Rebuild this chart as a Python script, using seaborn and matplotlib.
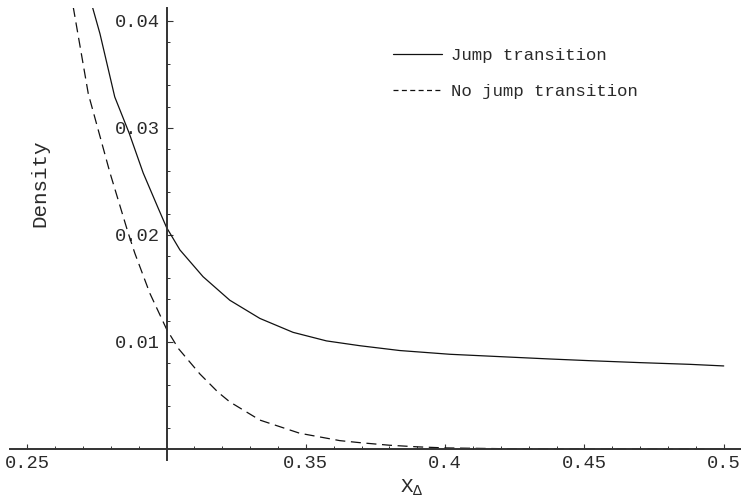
import numpy as np
import pandas as pd
import matplotlib
matplotlib.use("Agg")
import matplotlib.pyplot as plt
from matplotlib.ticker import FixedLocator, MultipleLocator
from matplotlib.lines import Line2D
import seaborn as sns

# ---------------- data ----------------
jump_x = [0.2734, 0.2761, 0.2814, 0.2866, 0.2916, 0.2970, 0.3000, 0.3048,
          0.3131, 0.3227, 0.3335, 0.3454, 0.3574, 0.3694, 0.3837, 0.4017,
          0.4196, 0.4376, 0.4520, 0.4699, 0.4878, 0.5000]
jump_y = [0.0413, 0.0388, 0.0329, 0.0295, 0.0258, 0.0225, 0.0207, 0.0186,
          0.0161, 0.0139, 0.0122, 0.0109, 0.0101, 0.00965, 0.0092, 0.00885,
          0.00863, 0.00841, 0.00825, 0.00807, 0.00791, 0.00776]

nojump_x = [0.2665, 0.2719, 0.2797, 0.2862, 0.2886, 0.2940, 0.3000, 0.3042,
            0.3120, 0.3185, 0.3227, 0.3335, 0.3478, 0.3622, 0.3694, 0.3800,
            0.3900, 0.4000, 0.4200, 0.4500, 0.5000]
nojump_y = [0.0413, 0.0332, 0.0258, 0.0202, 0.0183, 0.01455, 0.0112, 0.0094,
            0.0070, 0.0053, 0.0044, 0.0027, 0.00147, 0.00078, 0.00059, 0.00035,
            0.0002, 0.0001, 0.00003, 0.00001, 0.0]

series_names = ["Jump transition", "No jump transition"]
x_tick_values = [0.25, 0.35, 0.4, 0.45, 0.5]
x_tick_labels = ["0.25", "0.35", "0.4", "0.45", "0.5"]
y_tick_values = [0.01, 0.02, 0.03, 0.04]
y_tick_labels = ["0.01", "0.02", "0.03", "0.04"]
x_label = r"X$_{\Delta}$"
y_label = "Density"

df = pd.concat([
    pd.DataFrame({"x": jump_x, "density": jump_y, "series": series_names[0]}),
    pd.DataFrame({"x": nojump_x, "density": nojump_y, "series": series_names[1]}),
], ignore_index=True)

# ---------------- style ----------------
sns.set_style("white")
MONO = ["Liberation Mono", "DejaVu Sans Mono"]
plt.rcParams["font.family"] = MONO
plt.rcParams["mathtext.fontset"] = "custom"
plt.rcParams["mathtext.rm"] = "Liberation Mono"
plt.rcParams["mathtext.it"] = "Liberation Mono"
TXT = "#2a2a2a"
AX = "#333333"

W, H = 741, 499
fig = plt.figure(figsize=(W / 100, H / 100), dpi=100)
ax = fig.add_axes([10 / W, (H - 460) / H, 731 / W, (460 - 8) / H])

sns.lineplot(data=df, x="x", y="density", style="series",
             dashes={series_names[0]: "", series_names[1]: (8, 4.5)},
             color="#111111", linewidth=0.9, estimator=None, legend=False, ax=ax)

ax.set_xlim(0.2438, 0.5062)
ax.set_ylim(-0.00103, 0.04121)

# Mathematica-like crossing axes
ax.spines["left"].set_position(("data", 0.3))
ax.spines["bottom"].set_position(("data", 0.0))
for s in ["top", "right"]:
    ax.spines[s].set_visible(False)
for s in ["left", "bottom"]:
    ax.spines[s].set_color(AX)
    ax.spines[s].set_linewidth(1.4)

ax.xaxis.set_major_locator(FixedLocator(x_tick_values))
ax.set_xticklabels(x_tick_labels)
ax.xaxis.set_minor_locator(MultipleLocator(0.01))
ax.yaxis.set_major_locator(FixedLocator(y_tick_values))
ax.set_yticklabels(y_tick_labels)
ax.yaxis.set_minor_locator(FixedLocator([v for v in np.arange(0.002, 0.0411, 0.002)
                                         if abs(v / 0.01 - round(v / 0.01)) > 1e-6]))

ax.tick_params(axis="x", which="both", bottom=True, top=False)
ax.tick_params(axis="y", which="both", left=True, right=False)
ax.tick_params(axis="x", which="major", direction="in", length=3.3, width=0.8,
               color=AX, labelsize=13.5, labelcolor=TXT, pad=4.5)
ax.tick_params(axis="x", which="minor", direction="in", length=2.0, width=0.7, color=AX)
ax.tick_params(axis="y", which="major", direction="in", length=4.3, width=0.8,
               color=AX, labelsize=13.5, labelcolor=TXT, pad=4.5)
ax.tick_params(axis="y", which="minor", direction="in", length=2.4, width=0.7, color=AX)

ax.set_xlabel("")
ax.set_ylabel("")
fig.text(412 / W, 1 - 488 / H, x_label, ha="center", va="center",
         fontsize=15, color=TXT)
fig.text(40 / W, 1 - 183 / H, y_label, ha="center", va="center",
         rotation=90, fontsize=15, color=TXT)

handles = [Line2D([], [], color="#111111", lw=0.9),
           Line2D([], [], color="#111111", lw=0.9, dashes=(4, 2.7))]
fig.legend(handles, series_names, loc="upper left",
           bbox_to_anchor=(393 / W, 1 - 48 / H), bbox_transform=fig.transFigure,
           frameon=False, fontsize=12.5, labelcolor=TXT, handlelength=2.82,
           handletextpad=0.52, labelspacing=1.22, borderpad=0, borderaxespad=0)

fig.savefig("out.png", dpi=100)
